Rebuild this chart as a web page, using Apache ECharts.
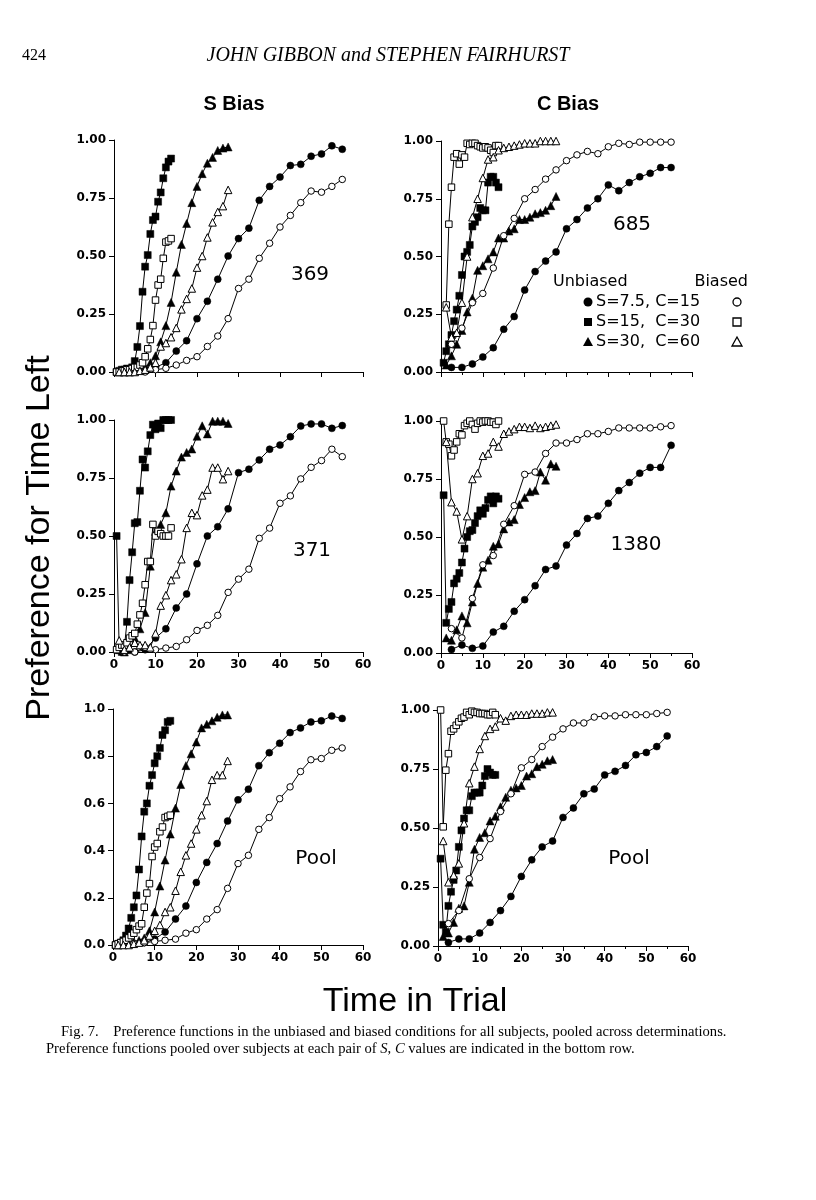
<!DOCTYPE html>
<html><head><meta charset="utf-8">
<script src="https://cdn.jsdelivr.net/npm/echarts@6/dist/echarts.min.js"></script>
<style>html,body{margin:0;padding:0;background:#fff}#c{width:816px;height:1200px}</style>
</head><body><div id="c"></div>
<script>
// x positions (time in trial) for each condition
const circleX   = [2.5,5,7.5,10,12.5,15,17.5,20,22.5,25,27.5,30,32.5,35,37.5,40,42.5,45,47.5,50,52.5,55];
const squareX   = [0.625,1.25,1.875,2.5,3.125,3.75,4.375,5,5.625,6.25,6.875,7.5,8.125,8.75,9.375,10,10.625,11.25,11.875,12.5,13.125,13.75];
const triangleX = [1.25,2.5,3.75,5,6.25,7.5,8.75,10,11.25,12.5,13.75,15,16.25,17.5,18.75,20,21.25,22.5,23.75,25,26.25,27.5];

// tick labels
const xTicks = [0,10,20,30,40,50,60];
const yTicks4 = ['0.00','0.25','0.50','0.75','1.00'];
const yTicks5 = ['0.0','0.2','0.4','0.6','0.8','1.0'];

// ---- Subject 369 (S bias) ----
const s369_circleUnb = [0,0,0.01,0.02,0.04,0.09,0.135,0.23,0.305,0.40,0.50,0.575,0.62,0.74,0.80,0.84,0.89,0.895,0.93,0.94,0.975,0.96];
const s369_circleBia = [0,0,0,0.01,0.016,0.03,0.05,0.066,0.11,0.155,0.23,0.36,0.40,0.49,0.555,0.625,0.675,0.73,0.78,0.775,0.80,0.83];
const s369_squareUnb = [0,0.005,0.01,0.01,0.015,0.01,0.02,0.047,0.108,0.198,0.346,0.454,0.504,0.595,0.655,0.67,0.734,0.774,0.835,0.882,0.907,0.92];
const s369_squareBia = [0,0,0.005,0.005,0.01,0.01,0.015,0.02,0.02,0.03,0.04,0.066,0.10,0.14,0.20,0.31,0.375,0.40,0.49,0.56,0.565,0.575];
const s369_triUnb    = [0,0,0,0.005,0.01,0.02,0.04,0.07,0.13,0.20,0.30,0.43,0.55,0.64,0.73,0.80,0.855,0.90,0.925,0.955,0.965,0.97];
const s369_triBia    = [0,0,0,0,0.005,0.01,0.02,0.04,0.11,0.125,0.15,0.19,0.27,0.315,0.36,0.45,0.50,0.58,0.645,0.69,0.715,0.785];

// ---- Subject 685 (C bias) ----
const s685_circleUnb = [0.02,0.02,0.035,0.065,0.105,0.185,0.24,0.355,0.435,0.48,0.52,0.62,0.66,0.71,0.75,0.81,0.785,0.82,0.845,0.86,0.885,0.885];
const s685_circleBia = [0.12,0.19,0.30,0.34,0.45,0.59,0.665,0.75,0.79,0.835,0.875,0.915,0.94,0.955,0.945,0.975,0.99,0.985,0.995,0.995,0.995,0.995];
const s685_squareUnb = [0.04,0.09,0.12,0.16,0.22,0.27,0.33,0.42,0.50,0.52,0.55,0.63,0.65,0.67,0.71,0.70,0.70,0.82,0.845,0.845,0.82,0.80];
const s685_squareBia = [null,0.29,0.64,0.80,0.93,0.945,0.90,0.94,0.93,0.99,0.985,0.99,0.99,0.98,0.975,0.97,0.975,0.97,0.96,0.95,0.98,0.98];
const s685_triUnb    = [0.03,0.07,0.12,0.18,0.26,0.32,0.44,0.46,0.49,0.52,0.58,0.58,0.61,0.62,0.66,0.66,0.67,0.685,0.69,0.70,0.72,0.76];
const s685_triBia    = [0.28,0.15,0.17,0.30,0.50,0.67,0.75,0.84,0.92,0.93,0.96,0.97,0.975,0.98,0.985,0.99,0.99,0.99,1.0,1.0,1.0,1.0];

// ---- Subject 371 (S bias) ----
const s371_circleUnb = [0,0,0.01,0.06,0.10,0.19,0.25,0.38,0.50,0.54,0.617,0.773,0.788,0.828,0.874,0.892,0.928,0.974,0.983,0.983,0.964,0.976];
const s371_circleBia = [0,0,0.02,0.01,0.017,0.024,0.053,0.093,0.115,0.158,0.257,0.314,0.357,0.49,0.534,0.641,0.673,0.746,0.796,0.825,0.874,0.842];
const s371_squareUnb = [0.5,0.01,0,0.02,0.13,0.31,0.43,0.555,0.56,0.695,0.83,0.795,0.865,0.935,0.98,0.96,0.985,0.965,1.0,1.0,1.0,1.0];
const s371_squareBia = [0.01,0.02,0.03,0.03,0.04,0.06,0.07,0.08,0.12,0.16,0.21,0.29,0.39,0.39,0.55,0.50,0.52,0.51,0.50,0.50,0.50,0.535];
const s371_triUnb    = [0.01,0,0.01,0.06,0.10,0.17,0.37,0.52,0.55,0.60,0.715,0.78,0.84,0.86,0.875,0.93,0.975,0.94,0.995,0.995,0.995,0.985];
const s371_triBia    = [0.05,0.01,0.02,0.04,0.03,0.03,0.02,0.08,0.20,0.245,0.31,0.335,0.40,0.535,0.60,0.59,0.675,0.70,0.795,0.795,0.745,0.78];

// ---- Subject 1380 (C bias) ----
const s1380_circleUnb = [0.015,0.035,0.02,0.03,0.09,0.115,0.18,0.23,0.29,0.36,0.375,0.465,0.515,0.58,0.59,0.645,0.70,0.735,0.775,0.80,0.80,0.895];
const s1380_circleBia = [0.105,0.065,0.235,0.38,0.42,0.555,0.635,0.77,0.78,0.86,0.905,0.905,0.92,0.945,0.945,0.955,0.97,0.97,0.97,0.97,0.975,0.98];
const s1380_squareUnb = [0.68,0.13,0.19,0.22,0.30,0.32,0.345,0.39,0.45,0.50,0.525,0.53,0.56,0.59,0.615,0.60,0.625,0.66,0.675,0.645,0.675,0.665];
const s1380_squareBia = [1.0,0.91,0.90,0.85,0.875,0.91,0.945,0.94,0.98,0.99,1.0,0.985,0.965,0.99,1.0,0.995,1.0,1.0,0.995,0.995,0.985,1.0];
const s1380_triUnb    = [0.065,0.055,0.10,0.16,0.13,0.22,0.30,0.37,0.40,0.46,0.47,0.535,0.565,0.575,0.64,0.67,0.695,0.70,0.78,0.745,0.815,0.805];
const s1380_triBia    = [0.91,0.65,0.61,0.49,0.59,0.75,0.775,0.85,0.86,0.91,0.89,0.945,0.955,0.965,0.975,0.975,0.97,0.98,0.97,0.975,0.98,0.985];

// ---- Pool (S bias) ----
const poolS_circleUnb = [0,0.005,0.01,0.025,0.055,0.11,0.165,0.265,0.35,0.43,0.525,0.615,0.66,0.76,0.815,0.855,0.90,0.92,0.945,0.95,0.97,0.96];
const poolS_circleBia = [0,0.005,0.01,0.015,0.02,0.025,0.05,0.065,0.11,0.15,0.24,0.345,0.38,0.49,0.54,0.62,0.67,0.735,0.785,0.79,0.825,0.835];
const poolS_squareUnb = [0,0.005,0.01,0.02,0.04,0.07,0.115,0.16,0.21,0.32,0.46,0.565,0.60,0.675,0.72,0.77,0.80,0.835,0.89,0.91,0.945,0.95];
const poolS_squareBia = [0,0.005,0.01,0.015,0.02,0.03,0.04,0.05,0.065,0.08,0.09,0.16,0.22,0.26,0.375,0.415,0.43,0.48,0.50,0.54,0.545,0.55];
const poolS_triUnb    = [0,0.005,0.01,0.015,0.02,0.03,0.06,0.14,0.25,0.36,0.47,0.58,0.68,0.76,0.81,0.86,0.92,0.935,0.95,0.965,0.975,0.975];
const poolS_triBia    = [0,0,0,0.005,0.01,0.02,0.04,0.06,0.085,0.14,0.16,0.23,0.31,0.38,0.43,0.49,0.55,0.61,0.70,0.72,0.72,0.78];

// ---- Pool (C bias) ----
const poolC_circleUnb = [0.015,0.03,0.03,0.055,0.10,0.15,0.21,0.295,0.365,0.42,0.445,0.545,0.585,0.645,0.665,0.725,0.74,0.765,0.81,0.82,0.845,0.89];
const poolC_circleBia = [0.095,0.15,0.285,0.375,0.455,0.57,0.645,0.755,0.79,0.845,0.885,0.92,0.945,0.945,0.97,0.975,0.975,0.98,0.98,0.98,0.985,0.99];
const poolC_squareUnb = [0.37,0.09,0.06,0.17,0.23,0.28,0.32,0.42,0.49,0.54,0.575,0.575,0.635,0.65,0.65,0.65,0.68,0.72,0.75,0.735,0.725,0.725];
const poolC_squareBia = [1.0,0.505,0.745,0.815,0.91,0.92,0.935,0.95,0.965,0.97,0.99,0.98,0.995,0.99,0.99,0.985,0.985,0.985,0.98,0.98,0.99,0.98];
const poolC_triUnb    = [0.04,0.055,0.10,0.16,0.17,0.27,0.41,0.46,0.48,0.53,0.55,0.59,0.63,0.66,0.67,0.68,0.72,0.73,0.76,0.77,0.785,0.79];
const poolC_triBia    = [0.445,0.27,0.30,0.35,0.52,0.69,0.76,0.835,0.89,0.92,0.93,0.965,0.955,0.975,0.98,0.98,0.98,0.985,0.985,0.985,0.99,0.99];

const panels = [
  {c:[s369_circleUnb,s369_circleBia], s:[s369_squareUnb,s369_squareBia], t:[s369_triUnb,s369_triBia]},
  {c:[s685_circleUnb,s685_circleBia], s:[s685_squareUnb,s685_squareBia], t:[s685_triUnb,s685_triBia]},
  {c:[s371_circleUnb,s371_circleBia], s:[s371_squareUnb,s371_squareBia], t:[s371_triUnb,s371_triBia]},
  {c:[s1380_circleUnb,s1380_circleBia], s:[s1380_squareUnb,s1380_squareBia], t:[s1380_triUnb,s1380_triBia]},
  {c:[poolS_circleUnb,poolS_circleBia], s:[poolS_squareUnb,poolS_squareBia], t:[poolS_triUnb,poolS_triBia]},
  {c:[poolC_circleUnb,poolC_circleBia], s:[poolC_squareUnb,poolC_squareBia], t:[poolC_triUnb,poolC_triBia]}
];

const grids = [
  {left:114, top:140, width:249, height:232},
  {left:441, top:141, width:251, height:231},
  {left:114, top:420, width:249, height:232},
  {left:441, top:421, width:251, height:232},
  {left:113, top:709, width:250, height:236},
  {left:438, top:710, width:250, height:236}
];

const TF = 'DejaVu Sans';
const xAxes = grids.map((g,i)=>({
  type:'value', gridIndex:i, min:0, max:60, interval:10,
  axisLine:{show:true, onZero:false, lineStyle:{color:'#000', width:1}},
  axisTick:{show:true, length:5, lineStyle:{color:'#000', width:1}},
  minorTick:{show:(i%2===1), splitNumber:2, length:3, lineStyle:{color:'#000'}},
  axisLabel:{show:i>=2, color:'#000', fontSize:12, fontWeight:'bold', fontFamily:TF, margin:7,
    formatter:v=>String(xTicks[xTicks.indexOf(Math.round(v))])},
  splitLine:{show:false}, minorSplitLine:{show:false}
}));
const yAxes = grids.map((g,i)=>{
  const five = (i===4);
  return {
    type:'value', gridIndex:i, min:0, max:1, interval: five?0.2:0.25,
    axisLine:{show:true, onZero:false, lineStyle:{color:'#000', width:1}},
    axisTick:{show:true, length:5, lineStyle:{color:'#000', width:1}},
    axisLabel:{color:'#000', fontSize:12, fontWeight:'bold', fontFamily:TF, margin:8,
      formatter:v=> five ? yTicks5[Math.round(v/0.2)] : yTicks4[Math.round(v/0.25)]},
    splitLine:{show:false}
  };
});

function mk(gi, xs, ys, symbol, filled, size){
  const data = [];
  xs.forEach((x,k)=>{ if(ys[k]!==null && ys[k]!==undefined) data.push([x, ys[k]]); });
  return {
    type:'line', xAxisIndex:gi, yAxisIndex:gi, data, symbol, symbolSize:size,
    showAllSymbol:true, animation:false, silent:true,
    lineStyle:{color:'#000', width:1},
    itemStyle: filled ? {color:'#000', borderColor:'#000', borderWidth:0.5}
                      : {color:'#fff', borderColor:'#000', borderWidth:1},
    z: filled?2:3
  };
}
const series = [];
panels.forEach((p,gi)=>{
  series.push(mk(gi, circleX, p.c[0], 'circle', true, 7));
  series.push(mk(gi, squareX, p.s[0], 'rect', true, 7));
  series.push(mk(gi, triangleX, p.t[0], 'triangle', true, 8));
  series.push(mk(gi, circleX, p.c[1], 'circle', false, 6.5));
  series.push(mk(gi, squareX, p.s[1], 'rect', false, 6.5));
  series.push(mk(gi, triangleX, p.t[1], 'triangle', false, 7.5));
});

function txt(text, x, y, font, align, valign, extra){
  return Object.assign({type:'text', silent:true, x, y,
    style:{text, font, fill:'#000', align:align||'center', verticalAlign:valign||'middle'}}, extra||{});
}
const LF = '16px "DejaVu Sans"';
const CF = '14.6px "Liberation Serif"';
const CFI = 'italic 14.6px "Liberation Serif"';
const graphic = [
  txt('424', 22, 56, '16px "Liberation Serif"', 'left'),
  txt('JOHN GIBBON and STEPHEN FAIRHURST', 388, 56, 'italic 20px "Liberation Serif"', 'center'),
  txt('S Bias', 234, 104, 'bold 20px "Liberation Sans Narrow", "Liberation Sans"', 'center'),
  txt('C Bias', 568, 104, 'bold 20px "Liberation Sans Narrow", "Liberation Sans"', 'center'),
  txt('369', 310, 275, '20px "DejaVu Sans"'),
  txt('685', 632, 225, '20px "DejaVu Sans"'),
  txt('371', 312, 551, '20px "DejaVu Sans"'),
  txt('1380', 636, 545, '20px "DejaVu Sans"'),
  txt('Pool', 316, 859, '20px "DejaVu Sans"'),
  txt('Pool', 629, 859, '20px "DejaVu Sans"'),
  txt('Unbiased', 553, 282, LF, 'left'),
  txt('Biased', 748, 282, LF, 'right'),
  txt('S=7.5, C=15', 596, 302, LF, 'left'),
  txt('S=15,  C=30', 596, 322, LF, 'left'),
  txt('S=30,  C=60', 596, 342, LF, 'left'),
  {type:'circle', silent:true, shape:{cx:588, cy:302, r:4.5}, style:{fill:'#000'}},
  {type:'rect', silent:true, shape:{x:584, y:318, width:8, height:8}, style:{fill:'#000'}},
  {type:'polygon', silent:true, shape:{points:[[588,337],[583,346],[593,346]]}, style:{fill:'#000'}},
  {type:'circle', silent:true, shape:{cx:737, cy:302, r:4}, style:{fill:'#fff', stroke:'#000', lineWidth:1.3}},
  {type:'rect', silent:true, shape:{x:733, y:318, width:8, height:8}, style:{fill:'#fff', stroke:'#000', lineWidth:1.3}},
  {type:'polygon', silent:true, shape:{points:[[737,337],[732,346],[742,346]]}, style:{fill:'#fff', stroke:'#000', lineWidth:1.3}},
  txt('Preference for Time Left', 40, 538, '34px "Liberation Sans"', 'center', 'middle', {rotation:Math.PI/2}),
  txt('Time in Trial', 415, 1002, '34px "Liberation Sans"', 'center'),
  txt('Fig. 7.    Preference functions in the unbiased and biased conditions for all subjects, pooled across determinations.', 61, 1032, CF, 'left'),
  {type:'text', silent:true, x:46, y:1049, style:{rich:{n:{font:CF, fill:'#000'}, i:{font:CFI, fill:'#000'}},
    text:'{n|Preference functions pooled over subjects at each pair of }{i|S}{n|, }{i|C}{n| values are indicated in the bottom row.}', align:'left', verticalAlign:'middle'}}
];

const chart = echarts.init(document.getElementById('c'), null, {renderer:'canvas'});
chart.setOption({
  animation:false, backgroundColor:'#fff',
  grid: grids, xAxis: xAxes, yAxis: yAxes, series, graphic
});
</script></body></html>
